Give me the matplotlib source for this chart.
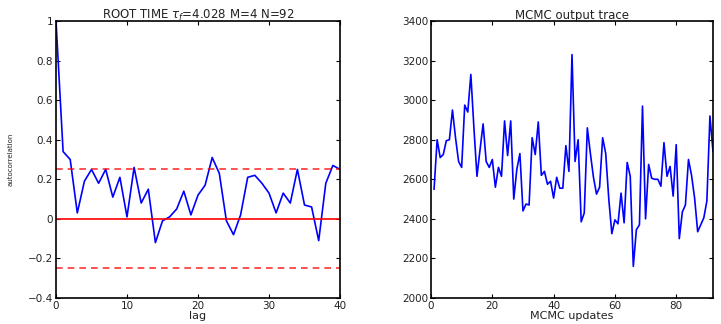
import matplotlib
matplotlib.use("Agg")
import matplotlib.pyplot as plt

# autocorrelation by lag (left panel)
lags = list(range(0, 41))
acf = [1.00, 0.34, 0.30, 0.03, 0.19, 0.25, 0.18, 0.25, 0.11, 0.21,
       0.01, 0.26, 0.08, 0.15, -0.12, -0.01, 0.01, 0.05, 0.14, 0.02,
       0.12, 0.17, 0.31, 0.23, -0.01, -0.08, 0.02, 0.21, 0.22, 0.18,
       0.13, 0.03, 0.13, 0.08, 0.25, 0.07, 0.06, -0.11, 0.18, 0.27,
       0.25]
conf_band = 0.25

# MCMC output trace (right panel)
updates = list(range(1, 93))
trace = [2550, 2800, 2710, 2725, 2795, 2800, 2950, 2810, 2690, 2660,
         2975, 2940, 3130, 2860, 2615, 2750, 2880, 2690, 2660, 2700,
         2560, 2660, 2615, 2895, 2720, 2895, 2500, 2650, 2730, 2440,
         2475, 2470, 2810, 2725, 2890, 2620, 2640, 2575, 2590, 2505,
         2610, 2555, 2555, 2770, 2640, 3230, 2690, 2800, 2385, 2430,
         2860, 2730, 2610, 2525, 2560, 2810, 2730, 2500, 2325, 2395,
         2375, 2530, 2380, 2685, 2615, 2160, 2345, 2370, 2970, 2400,
         2675, 2605, 2600, 2600, 2565, 2785, 2615, 2665, 2515, 2775,
         2300, 2435, 2470, 2700, 2620, 2505, 2335, 2370, 2405, 2490,
         2920, 2740]

plt.rcParams["font.family"] = ["DejaVu Sans"]
plt.rcParams["axes.unicode_minus"] = True
plt.rcParams["mathtext.fontset"] = "dejavusans"

TXT = "#222222"

fig = plt.figure(figsize=(7.21, 3.24), dpi=100)
ax1 = fig.add_axes([56 / 721, 1 - 298 / 324, 284 / 721, 277 / 324])
ax2 = fig.add_axes([431 / 721, 1 - 298 / 324, 282 / 721, 277 / 324])


def matlab_style(ax):
    ax.tick_params(direction="in", top=True, right=True, length=3,
                   width=0.8, labelsize=7.5, pad=2, labelcolor=TXT)
    for s in ax.spines.values():
        s.set_linewidth(1.2)


ax1.plot(lags, acf, color="blue", lw=1.2)
ax1.axhline(0, color="red", lw=1.2)
ax1.axhline(conf_band, color="red", lw=1.2, ls=(0, (4, 3)), alpha=0.8)
ax1.axhline(-conf_band, color="red", lw=1.2, ls=(0, (4, 3)), alpha=0.8)
ax1.set_xlim(0, 40)
ax1.set_ylim(-0.4, 1)
ax1.set_xticks([0, 10, 20, 30, 40])
ax1.set_yticks([-0.4, -0.2, 0, 0.2, 0.4, 0.6, 0.8, 1])
ax1.set_yticklabels(["\u22120.4", "\u22120.2", "0", "0.2", "0.4", "0.6", "0.8", "1"])
ax1.set_xlabel("lag", fontsize=8, labelpad=0.5, color=TXT)
ax1.set_ylabel("autocorrelation", fontsize=5, labelpad=10, color=TXT)
ax1.set_title(r"ROOT TIME $\tau_f$=4.028 M=4 N=92", fontsize=8.5, pad=1.5, color=TXT)
matlab_style(ax1)

ax2.plot(updates, trace, color="blue", lw=1.2)
ax2.set_xlim(0, 92)
ax2.set_ylim(2000, 3400)
ax2.set_xticks([0, 20, 40, 60, 80])
ax2.set_yticks(range(2000, 3401, 200))
ax2.set_xlabel("MCMC updates", fontsize=8, labelpad=0.5, color=TXT)
ax2.set_title("MCMC output trace", fontsize=8.5, pad=1.5, color=TXT)
matlab_style(ax2)

fig.savefig("out.png", dpi=100)
